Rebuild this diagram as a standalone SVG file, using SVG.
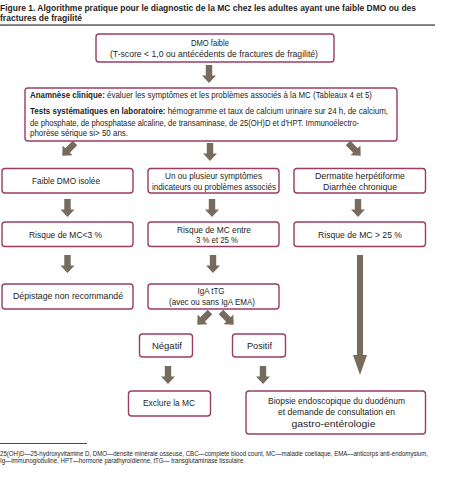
<svg xmlns="http://www.w3.org/2000/svg" xmlns:xlink="http://www.w3.org/1999/xlink" width="458" height="479" viewBox="0 0 458 479">
<style>
text{font-family:"Liberation Sans",Arial,sans-serif;fill:#1e1e1e;}
.t{font-size:9px;font-weight:bold;}
.b{font-size:8.8px;text-anchor:middle;}
.l{font-size:8.8px;}
.bold{font-weight:bold;}
.fn{font-size:6.4px;}
.box{fill:#fff;stroke:#9b3c63;stroke-width:1.4;}
.arr{fill:#766b5d;}
</style>
<defs>
<path id="a" d="M-3.2,0 H3.2 V10.5 H7 L0,18 L-7,10.5 H-3.2 Z"/>
</defs>
<rect width="458" height="479" fill="#fff"/>
<g id="title">
<text class="t" x="0" y="10.5" textLength="416" lengthAdjust="spacingAndGlyphs">Figure 1. Algorithme pratique pour le diagnostic de la MC chez les adultes ayant une faible DMO ou des</text>
<text class="t" x="0" y="21" textLength="82" lengthAdjust="spacingAndGlyphs">fractures de fragilité</text>
<rect x="0" y="24.5" width="435" height="1.1" fill="#1e1e1e"/>
</g>
<g id="connectors" class="arr">
<use xlink:href="#a" transform="translate(209,65)"/>
<use xlink:href="#a" transform="translate(75,143) rotate(45)"/>
<use xlink:href="#a" transform="translate(210,143)"/>
<use xlink:href="#a" transform="translate(348,143) rotate(-45)"/>
<use xlink:href="#a" transform="translate(67.5,199)"/>
<use xlink:href="#a" transform="translate(212,199)"/>
<use xlink:href="#a" transform="translate(358,199)"/>
<use xlink:href="#a" transform="translate(67.5,255)"/>
<use xlink:href="#a" transform="translate(213,255)"/>
<path d="M357,255 H363 V355 H367 L360,375 L353,355 H357 Z"/>
<use xlink:href="#a" transform="translate(210,312) rotate(45)"/>
<use xlink:href="#a" transform="translate(221,312) rotate(-45)"/>
<use xlink:href="#a" transform="translate(168,366)"/>
<use xlink:href="#a" transform="translate(263,366)"/>
</g>
<g id="n1">
<rect class="box" x="96" y="34" width="238" height="28" rx="3"/>
<text class="b" x="210" y="45.5" textLength="38" lengthAdjust="spacingAndGlyphs">DMO faible</text>
<text class="b" x="214" y="57" textLength="208" lengthAdjust="spacingAndGlyphs">(T-score &lt; 1,0 ou antécédents de fractures de fragilité)</text>
</g>
<g id="n2">
<rect class="box" x="25" y="88" width="372" height="53" rx="3"/>
<text class="l" x="30" y="97.5" textLength="342" lengthAdjust="spacingAndGlyphs"><tspan class="bold">Anamnèse clinique:</tspan> évaluer les symptômes et les problèmes associés à la MC (Tableaux 4 et 5)</text>
<text class="l" x="30" y="114" textLength="358" lengthAdjust="spacingAndGlyphs"><tspan class="bold">Tests systématiques en laboratoire:</tspan> hémogramme et taux de calcium urinaire sur 24 h, de calcium,</text>
<text class="l" x="30" y="125.5" textLength="329" lengthAdjust="spacingAndGlyphs">de phosphate, de phosphatase alcaline, de transaminase, de 25(OH)D et d'HPT. Immunoélectro-</text>
<text class="l" x="30" y="136" textLength="98" lengthAdjust="spacingAndGlyphs">phorèse sérique si&gt; 50 ans.</text>
</g>
<g id="n3">
<rect class="box" x="2" y="168.5" width="131" height="24.5" rx="3"/>
<text class="b" x="66" y="183.5" textLength="68" lengthAdjust="spacingAndGlyphs">Faible DMO isolée</text>
</g>
<g id="n4">
<rect class="box" x="148" y="168.5" width="131" height="24.5" rx="3"/>
<text class="b" x="213.5" y="178.5" textLength="97" lengthAdjust="spacingAndGlyphs">Un ou plusieur symptômes</text>
<text class="b" x="214" y="190" textLength="124" lengthAdjust="spacingAndGlyphs">indicateurs ou problèmes associés</text>
</g>
<g id="n5">
<rect class="box" x="294" y="168.5" width="131.5" height="24.5" rx="3"/>
<text class="b" x="360" y="178.5" textLength="90" lengthAdjust="spacingAndGlyphs">Dermatite herpétiforme</text>
<text class="b" x="360" y="190" textLength="74" lengthAdjust="spacingAndGlyphs">Diarrhée chronique</text>
</g>
<g id="n6">
<rect class="box" x="2" y="222" width="131" height="24.5" rx="3"/>
<text class="b" x="65.5" y="237.5" textLength="73" lengthAdjust="spacingAndGlyphs">Risque de MC&lt;3 %</text>
</g>
<g id="n7">
<rect class="box" x="148" y="222" width="131" height="24.5" rx="3"/>
<text class="b" x="214" y="232.5" textLength="74" lengthAdjust="spacingAndGlyphs">Risque de MC entre</text>
<text class="b" x="217" y="243" textLength="42" lengthAdjust="spacingAndGlyphs">3 % et 25 %</text>
</g>
<g id="n8">
<rect class="box" x="294" y="222" width="131.5" height="24.5" rx="3"/>
<text class="b" x="360" y="237.5" textLength="84" lengthAdjust="spacingAndGlyphs">Risque de MC &gt; 25 %</text>
</g>
<g id="n9">
<rect class="box" x="2" y="284" width="131" height="25" rx="3"/>
<text class="b" x="68" y="299" textLength="110" lengthAdjust="spacingAndGlyphs">Dépistage non recommandé</text>
</g>
<g id="n10">
<rect class="box" x="148" y="284" width="131" height="25" rx="3"/>
<text class="b" x="211" y="294" textLength="27" lengthAdjust="spacingAndGlyphs">IgA tTG</text>
<text class="b" x="212" y="304.5" textLength="86" lengthAdjust="spacingAndGlyphs">(avec ou sans IgA EMA)</text>
</g>
<g id="n11">
<rect class="box" x="139.5" y="334" width="53" height="23" rx="3"/>
<text class="b" x="167" y="348.5" textLength="30" lengthAdjust="spacingAndGlyphs">Négatif</text>
</g>
<g id="n12">
<rect class="box" x="232.5" y="334" width="53" height="23" rx="3"/>
<text class="b" x="259.5" y="348.5" textLength="25" lengthAdjust="spacingAndGlyphs">Positif</text>
</g>
<g id="n13">
<rect class="box" x="128.5" y="391" width="82" height="25" rx="3"/>
<text class="b" x="169" y="406" textLength="52" lengthAdjust="spacingAndGlyphs">Exclure la MC</text>
</g>
<g id="n14">
<rect class="box" x="246" y="391" width="179.5" height="43" rx="3"/>
<text class="b" x="336.5" y="404" textLength="137" lengthAdjust="spacingAndGlyphs">Biopsie endoscopique du duodénum</text>
<text class="b" x="336.5" y="415" textLength="117" lengthAdjust="spacingAndGlyphs">et demande de consultation en</text>
<text class="b" x="333.5" y="426.5" textLength="84" lengthAdjust="spacingAndGlyphs">gastro-entérologie</text>
</g>
<g id="footnote">
<rect x="0" y="443" width="87" height="0.8" fill="#1e1e1e"/>
<text class="fn" x="0" y="455.5" textLength="428" lengthAdjust="spacingAndGlyphs">25(OH)D—25-hydroxyvitamine D, DMO—densité minérale osseuse, CBC—complete blood count, MC—maladie coeliaque, EMA—anticorps anti-endomysium,</text>
<text class="fn" x="0" y="462.5" textLength="245" lengthAdjust="spacingAndGlyphs">Ig—immunoglobuline, HPT—hormone parathyroïdienne, tTG— transglutaminase tissulaire.</text>
</g>
</svg>
